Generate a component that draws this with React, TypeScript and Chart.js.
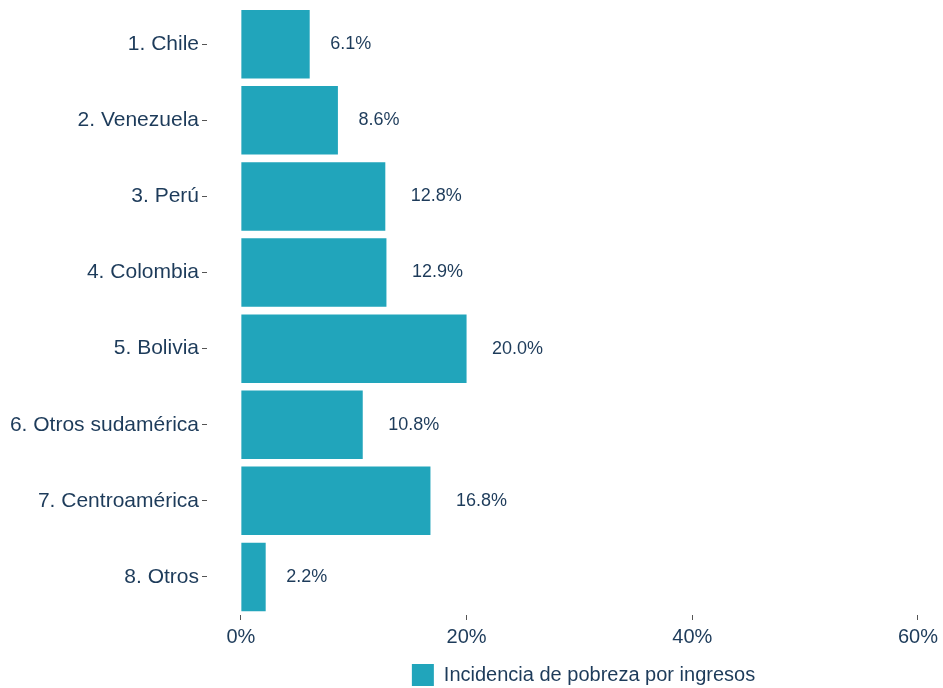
import React, { useEffect, useRef } from "react";
import { Chart, registerables } from "chart.js";

Chart.register(...registerables);

const categories = [
  "1. Chile",
  "2. Venezuela",
  "3. Perú",
  "4. Colombia",
  "5. Bolivia",
  "6. Otros sudamérica",
  "7. Centroamérica",
  "8. Otros",
];
const values = [6.1, 8.6, 12.8, 12.9, 20.0, 10.8, 16.8, 2.2];
const xTicks = [0, 20, 40, 60];
const seriesLabel = "Incidencia de pobreza por ingresos";

const FONT = "'Liberation Sans', Arial, Helvetica, sans-serif";
const TEXT = "#1d3b5a";
const BAR = "#21a5bb";

const valueLabels = {
  id: "valueLabels",
  afterDatasetsDraw(chart: any) {
    const ctx = chart.ctx;
    const meta = chart.getDatasetMeta(0);
    ctx.save();
    ctx.font = `18px ${FONT}`;
    ctx.fillStyle = TEXT;
    ctx.textAlign = "left";
    ctx.textBaseline = "middle";
    meta.data.forEach((bar: any, i: number) => {
      const txt = values[i].toFixed(1) + "%";
      const w = ctx.measureText(txt).width;
      ctx.fillText(txt, bar.x + w * 0.5, bar.y);
    });
    ctx.restore();
  },
};

const legendShift = {
  id: "legendShift",
  afterLayout(chart: any) {
    if (chart.legend) {
      chart.legend.left += 12;
      chart.legend.right += 12;
    }
  },
};

export default function App() {
  const ref = useRef<HTMLCanvasElement>(null);
  useEffect(() => {
    document.body.style.margin = "0";
    const chart = new Chart(ref.current!, {
      type: "bar",
      data: {
        labels: categories,
        datasets: [
          {
            label: seriesLabel,
            data: values,
            backgroundColor: BAR,
            borderWidth: 0,
            barPercentage: 0.9,
            categoryPercentage: 1,
          },
        ],
      },
      plugins: [valueLabels, legendShift],
      options: {
        indexAxis: "y",
        animation: false,
        responsive: false,
        layout: { padding: { top: 4, right: 0, left: 0, bottom: -8 } },
        scales: {
          x: {
            type: "linear",
            min: -3,
            max: 61.6,
            afterBuildTicks: (scale: any) => {
              scale.ticks = xTicks.map((v) => ({ value: v }));
            },
            afterFit: (scale: any) => {
              scale.height = 49;
            },
            border: { display: false },
            grid: {
              display: true,
              drawOnChartArea: false,
              drawTicks: true,
              tickLength: 5,
              color: "#555",
            },
            ticks: {
              padding: 5,
              color: TEXT,
              font: { family: FONT, size: 20, lineHeight: 1.2 },
              callback: (v: any) => v + "%",
              maxRotation: 0,
            },
          },
          y: {
            afterFit: (scale: any) => {
              scale.width = 207;
            },
            border: { display: false },
            grid: {
              display: true,
              offset: false,
              drawOnChartArea: false,
              drawTicks: true,
              tickLength: 5,
              color: "#555",
            },
            ticks: {
              padding: 3,
              color: TEXT,
              font: { family: FONT, size: 21, lineHeight: 0.3 },
            },
          },
        },
        plugins: {
          tooltip: { enabled: false },
          legend: {
            position: "bottom",
            fullSize: false,
            labels: {
              boxWidth: 22,
              boxHeight: 22,
              color: TEXT,
              font: { family: FONT, size: 20 },
              padding: 0,
            },
          },
        },
      },
    } as any);
    return () => chart.destroy();
  }, []);
  return (
    <div style={{ width: 943, height: 688, background: "#fff" }}>
      <canvas ref={ref} width={943} height={688} />
    </div>
  );
}
